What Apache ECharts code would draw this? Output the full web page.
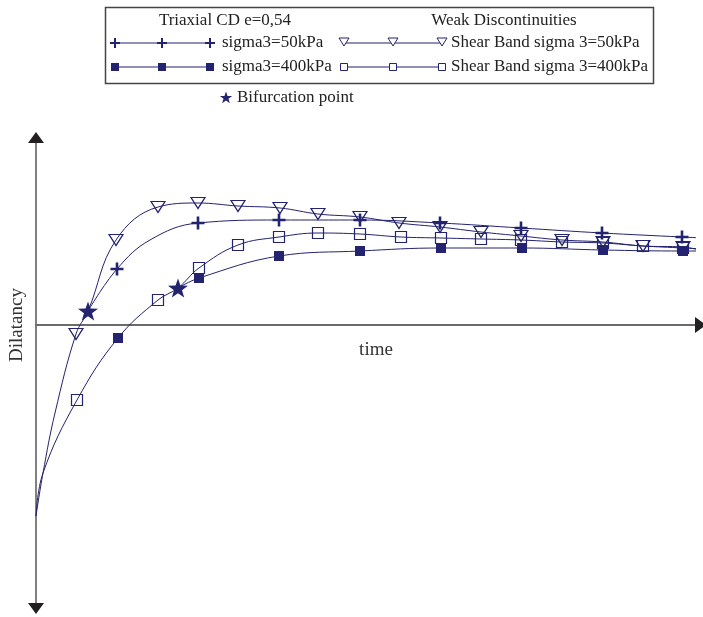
<!DOCTYPE html>
<html><head><meta charset="utf-8">
<script src="https://cdn.jsdelivr.net/npm/echarts@6/dist/echarts.min.js"></script>
<style>html,body{margin:0;padding:0;background:#fff}#c{width:703px;height:617px}</style>
</head><body><div id="c"></div>
<script>
// ---- data (time, dilatancy) ----
// Shear Band sigma 3=50kPa (triangles)
const sb50X = [0, 0.07, 0.19, 0.40, 0.52, 0.80, 1.22, 1.62, 2.02, 2.44, 2.82, 3.24, 3.63, 4.04, 4.45, 4.85, 5.26, 5.67, 6.07, 6.47, 6.67];
const sb50Y = [-1.91, -1.48, -0.88, -0.09, 0.14, 0.85, 1.18, 1.22, 1.19, 1.17, 1.11, 1.08, 1.02, 0.98, 0.93, 0.89, 0.85, 0.83, 0.79, 0.78, 0.74];
const sb50Mark = [0, 0, 0, 1, 0, 1, 1, 1, 1, 1, 1, 1, 1, 1, 1, 1, 1, 1, 1, 1, 0];
// Shear Band sigma 3=400kPa (open squares)
const sb400X = [0, 0.07, 0.41, 0.82, 1.22, 1.42, 1.63, 2.02, 2.43, 2.82, 3.24, 3.65, 4.05, 4.45, 4.85, 5.26, 5.67, 6.07, 6.47, 6.67];
const sb400Y = [-1.91, -1.48, -0.75, -0.13, 0.25, 0.37, 0.57, 0.80, 0.88, 0.92, 0.91, 0.88, 0.87, 0.86, 0.85, 0.83, 0.82, 0.79, 0.77, 0.76];
const sb400Mark = [0, 0, 1, 0, 1, 0, 1, 1, 1, 1, 1, 1, 1, 1, 1, 1, 1, 1, 1, 0];
// Triaxial sigma3=50kPa (plus), branching at bifurcation
const t50X = [0.52, 0.81, 1.14, 1.62, 2.43, 3.24, 4.04, 4.85, 5.66, 6.46, 6.67];
const t50Y = [0.14, 0.56, 0.85, 1.02, 1.05, 1.05, 1.02, 0.97, 0.92, 0.88, 0.87];
const t50Mark = [0, 1, 0, 1, 1, 1, 1, 1, 1, 1, 0];
// Triaxial sigma3=400kPa (filled squares), branching at bifurcation
const t400X = [1.42, 1.63, 2.43, 3.24, 4.05, 4.86, 5.67, 6.47, 6.67];
const t400Y = [0.37, 0.47, 0.69, 0.74, 0.77, 0.77, 0.75, 0.74, 0.74];
const t400Mark = [0, 1, 1, 1, 1, 1, 1, 1, 0];
// filled-square marker before bifurcation (on the common curve)
const t400PreX = [0.82];
const t400PreY = [-0.13];
// Bifurcation points
const bifX = [0.52, 1.42];
const bifY = [0.14, 0.37];

const xMin = 0, xMax = 6.59, yMin = -2.78, yMax = 1.82;

const NAVY = '#23236f';
const STAR = 'path://M0,-10L2.35,-3.24L9.51,-3.09L3.8,1.24L5.88,8.09L0,4L-5.88,8.09L-3.8,1.24L-9.51,-3.09L-2.35,-3.24Z';
const PLUS = 'path://M-1.3,-6.5H1.3V-1.3H6.5V1.3H1.3V6.5H-1.3V1.3H-6.5V-1.3H-1.3Z';
const FONT = '"Liberation Serif", "Times New Roman", serif';

function build(xs, ys, marks, sym) {
  return xs.map((x, i) => ({ value: [x, ys[i]], symbol: marks[i] ? sym : 'none' }));
}

const chart = echarts.init(document.getElementById('c'), null, { renderer: 'canvas' });

const lineBase = {
  type: 'line', smooth: 0.4, clip: false, showAllSymbol: true,
  lineStyle: { color: NAVY, width: 1 }, emphasis: { disabled: true }, silent: true
};

// ---- legend graphics ----
const lg = [];
lg.push({ type: 'rect', shape: { x: 105.5, y: 7.5, width: 548, height: 76 }, style: { fill: '#fff', stroke: '#444', lineWidth: 1.5 }, z: 10 });
function txt(x, y, s, align) {
  lg.push({ type: 'text', x: x, y: y, z: 11, style: { text: s, font: '17px ' + FONT, fill: '#222', textAlign: align || 'left', textVerticalAlign: 'middle' } });
}
txt(225, 21, 'Triaxial CD e=0,54', 'center');
txt(504, 21, 'Weak Discontinuities', 'center');
function lline(x1, x2, y) { lg.push({ type: 'line', z: 11, shape: { x1: x1, y1: y, x2: x2, y2: y }, style: { stroke: NAVY, lineWidth: 1 } }); }
function plus(x, y) {
  lg.push({ type: 'rect', z: 12, shape: { x: x - 5, y: y - 1, width: 10, height: 2 }, style: { fill: NAVY } });
  lg.push({ type: 'rect', z: 12, shape: { x: x - 1, y: y - 5, width: 2, height: 10 }, style: { fill: NAVY } });
}
function fsq(x, y) { lg.push({ type: 'rect', z: 12, shape: { x: x - 4, y: y - 4, width: 8, height: 8 }, style: { fill: NAVY } }); }
function osq(x, y) { lg.push({ type: 'rect', z: 12, shape: { x: x - 3.5, y: y - 3.5, width: 7, height: 7 }, style: { fill: '#fff', stroke: NAVY, lineWidth: 1 } }); }
function tri(x, y) { lg.push({ type: 'polygon', z: 12, shape: { points: [[x - 5, y - 4], [x + 5, y - 4], [x, y + 4]] }, style: { fill: '#fff', stroke: NAVY, lineWidth: 1 } }); }
function star(x, y, r) {
  const pts = [];
  for (let i = 0; i < 10; i++) {
    const a = -Math.PI / 2 + i * Math.PI / 5;
    const rr = i % 2 === 0 ? r : r * 0.4;
    pts.push([x + rr * Math.cos(a), y + rr * Math.sin(a)]);
  }
  lg.push({ type: 'polygon', z: 12, shape: { points: pts }, style: { fill: NAVY } });
}
lline(115, 210, 43); [115, 162, 210].forEach(x => plus(x, 43)); txt(222, 43, 'sigma3=50kPa');
lline(115, 210, 67); [115, 162, 210].forEach(x => fsq(x, 67)); txt(222, 67, 'sigma3=400kPa');
lline(344, 442, 43); [344, 393, 442].forEach(x => tri(x, 42)); txt(451, 43, 'Shear Band sigma 3=50kPa');
lline(344, 442, 67); [344, 393, 442].forEach(x => osq(x, 67)); txt(451, 67, 'Shear Band sigma 3=400kPa');
star(226, 98, 6.5); txt(237, 98, 'Bifurcation point');

// axis titles
lg.push({ type: 'text', x: 17, y: 325, rotation: Math.PI / 2, z: 11, style: { text: 'Dilatancy', font: '19px ' + FONT, fill: '#333', textAlign: 'center', textVerticalAlign: 'middle' } });
lg.push({ type: 'text', x: 376, y: 350, z: 11, style: { text: 'time', font: '19px ' + FONT, fill: '#333', textAlign: 'center', textVerticalAlign: 'middle' } });

const option = {
  animation: false,
  backgroundColor: '#fff',
  grid: { left: 36, right: 8, top: 143, bottom: 14, containLabel: false },
  xAxis: {
    type: 'value', min: xMin, max: xMax,
    axisLine: { onZero: true, lineStyle: { color: '#6b6b6b', width: 2 } },
    axisTick: { show: false }, axisLabel: { show: false }, splitLine: { show: false }
  },
  yAxis: {
    type: 'value', min: yMin, max: yMax,
    axisLine: { show: true, onZero: false, lineStyle: { color: '#808080', width: 2 } },
    axisTick: { show: false }, axisLabel: { show: false }, splitLine: { show: false }
  },
  series: [
    Object.assign({}, lineBase, {
      name: 'Shear Band sigma 3=50kPa', data: build(sb50X, sb50Y, sb50Mark, 'triangle'),
      symbolSize: [14, 11], symbolRotate: 180,
      itemStyle: { color: 'rgba(255,255,255,0)', borderColor: NAVY, borderWidth: 1.2, opacity: 1 }, z: 2
    }),
    Object.assign({}, lineBase, {
      name: 'Shear Band sigma 3=400kPa', data: build(sb400X, sb400Y, sb400Mark, 'rect'),
      symbolSize: 11,
      itemStyle: { color: 'rgba(255,255,255,0)', borderColor: NAVY, borderWidth: 1.2, opacity: 1 }, z: 3
    }),
    Object.assign({}, lineBase, {
      name: 'sigma3=400kPa', data: build(t400X, t400Y, t400Mark, 'rect'),
      symbolSize: 10, itemStyle: { color: NAVY, opacity: 1 }, z: 4
    }),
    {
      type: 'scatter', data: t400PreX.map((x, i) => [x, t400PreY[i]]), symbol: 'rect', symbolSize: 10,
      itemStyle: { color: NAVY, opacity: 1 }, z: 4, silent: true
    },
    Object.assign({}, lineBase, {
      name: 'sigma3=50kPa', data: build(t50X, t50Y, t50Mark, PLUS),
      symbolSize: 13, itemStyle: { color: NAVY, opacity: 1 }, z: 5
    }),
    {
      type: 'scatter', name: 'Bifurcation point', data: bifX.map((x, i) => [x, bifY[i]]), symbol: STAR, symbolSize: [20, 19],
      itemStyle: { color: NAVY, opacity: 1 }, z: 6, silent: true
    }
  ],
  graphic: lg
};
chart.setOption(option);

// black arrow heads at the ends of both axes
const pTop = chart.convertToPixel({ gridIndex: 0 }, [0, yMax]);
const pBot = chart.convertToPixel({ gridIndex: 0 }, [0, yMin]);
const pRgt = chart.convertToPixel({ gridIndex: 0 }, [xMax, 0]);
const ARW = '#231f20';
const arrows = [
  { type: 'polygon', z: 20, shape: { points: [[pTop[0], pTop[1] - 11], [pTop[0] - 8, pTop[1]], [pTop[0] + 8, pTop[1]]] }, style: { fill: ARW } },
  { type: 'polygon', z: 20, shape: { points: [[pBot[0], pBot[1] + 11], [pBot[0] - 8, pBot[1]], [pBot[0] + 8, pBot[1]]] }, style: { fill: ARW } },
  { type: 'polygon', z: 20, shape: { points: [[pRgt[0] + 11, pRgt[1]], [pRgt[0], pRgt[1] - 8], [pRgt[0], pRgt[1] + 8]] }, style: { fill: ARW } }
];
chart.setOption({ graphic: lg.concat(arrows) });
</script></body></html>
